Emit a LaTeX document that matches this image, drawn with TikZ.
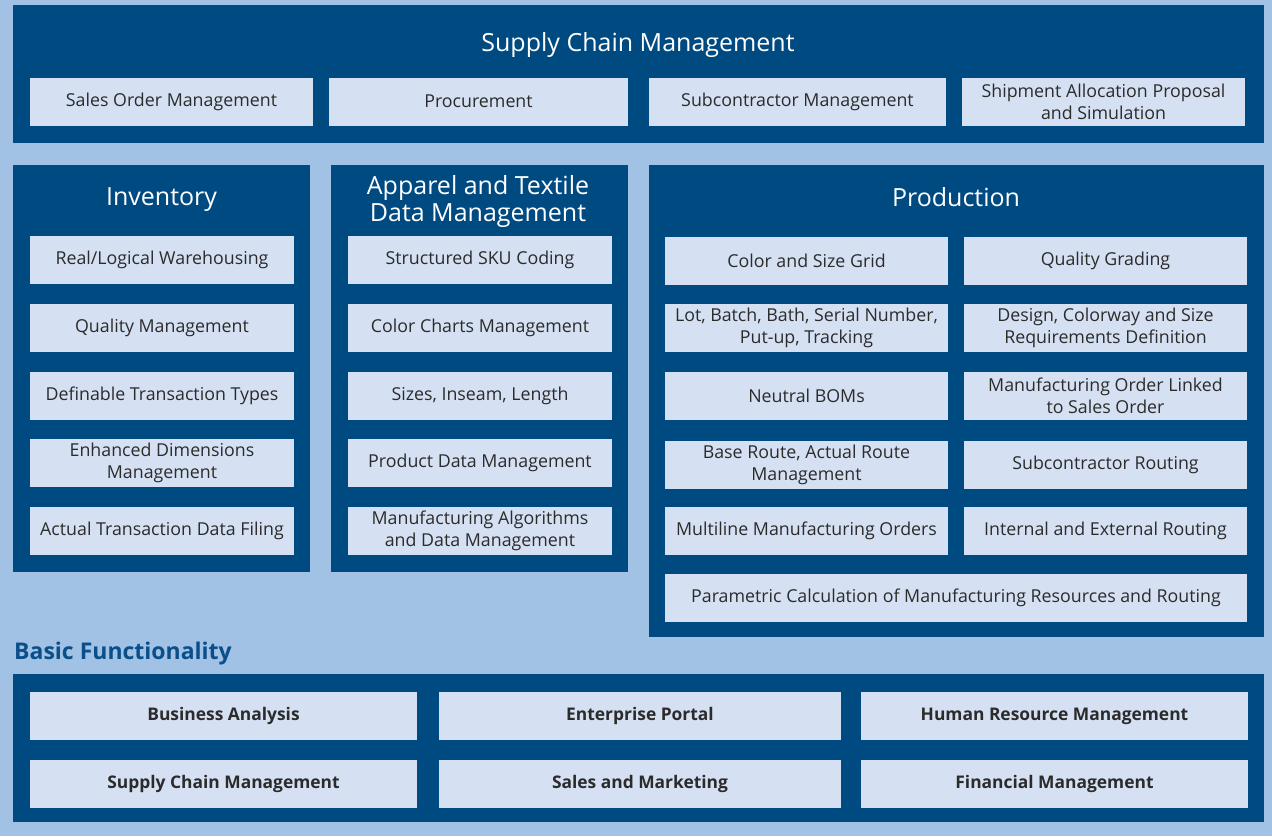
\documentclass[tikz,border=0pt]{standalone}
\usepackage{fontspec}
\setmainfont{Open Sans}
\definecolor{pagebg}{HTML}{A1C1E5}
\definecolor{panelblue}{HTML}{004A82}
\definecolor{itemfill}{HTML}{D5E1F3}
\definecolor{itemtext}{HTML}{2B2B2B}
\definecolor{headblue}{HTML}{0B4F8A}
\begin{document}
\begin{tikzpicture}[x=1pt, y=-1pt,
    panel/.style={fill=panelblue},
    paneltitle/.style={text=white, font=\fontsize{25}{27}\selectfont, align=center, inner sep=0, anchor=base},
    item/.style={fill=itemfill, text=itemtext, inner sep=0, minimum height=48pt, align=center,
        font=\fontsize{17.8}{22}\selectfont},
    baseitem/.style={item, font=\fontsize{17.4}{22}\selectfont\bfseries}]
    \useasboundingbox[fill=pagebg] (0, 0) rectangle (1272, 836);
    % top panel
    \fill[panel] (13, 5) rectangle (1264, 143);
    \node[paneltitle] (scm) at (638, 51) {Supply Chain Management};
    \node[item, minimum width=283pt] (sales) at (171.5, 101.5) {Sales Order Management};
    \node[item, minimum width=299pt] (procure) at (478.5, 101.5) {Procurement};
    \node[item, minimum width=297pt] (subcon) at (797.5, 101.5) {Subcontractor Management};
    \node[item, minimum width=283pt] (shipment) at (1103.5, 101.5) {Shipment Allocation Proposal\\and Simulation};
    % inventory
    \fill[panel] (13, 165) rectangle (310, 572);
    \node[paneltitle] (inv) at (161.5, 205) {Inventory};
    \node[item, minimum width=264pt] (warehouse) at (162, 260) {Real/Logical Warehousing};
    \node[item, minimum width=264pt] (quality) at (162, 328) {Quality Management};
    \node[item, minimum width=264pt] (transtype) at (162, 396) {Definable Transaction Types};
    \node[item, minimum width=264pt] (dimensions) at (162, 463) {Enhanced Dimensions\\Management};
    \node[item, minimum width=264pt] (filing) at (162, 531) {Actual Transaction Data Filing};
    % apparel and textile
    \fill[panel] (331, 165) rectangle (628, 572);
    \node[paneltitle] (apparel) at (478, 221) {Apparel and Textile\\Data Management};
    \node[item, minimum width=264pt] (sku) at (480, 260) {Structured SKU Coding};
    \node[item, minimum width=264pt] (colorchart) at (480, 328) {Color Charts Management};
    \node[item, minimum width=264pt] (sizes) at (480, 396) {Sizes, Inseam, Length};
    \node[item, minimum width=264pt] (pdm) at (480, 463) {Product Data Management};
    \node[item, minimum width=264pt] (algorithms) at (480, 531) {Manufacturing Algorithms\\and Data Management};
    % production
    \fill[panel] (649, 165) rectangle (1264, 637);
    \node[paneltitle] (prod) at (956, 206) {Production};
    \node[item, minimum width=283pt] (grid) at (806.5, 261) {Color and Size Grid};
    \node[item, minimum width=283pt] (grading) at (1105.5, 261) {Quality Grading};
    \node[item, minimum width=283pt] (lot) at (806.5, 328) {Lot, Batch, Bath, Serial Number,\\Put-up, Tracking};
    \node[item, minimum width=283pt] (design) at (1105.5, 328) {Design, Colorway and Size\\Requirements Definition};
    \node[item, minimum width=283pt] (boms) at (806.5, 396) {Neutral BOMs};
    \node[item, minimum width=283pt] (linked) at (1105.5, 396) {Manufacturing Order Linked\\to Sales Order};
    \node[item, minimum width=283pt] (route) at (806.5, 465) {Base Route, Actual Route\\Management};
    \node[item, minimum width=283pt] (subrouting) at (1105.5, 465) {Subcontractor Routing};
    \node[item, minimum width=283pt] (multiline) at (806.5, 531) {Multiline Manufacturing Orders};
    \node[item, minimum width=283pt] (routing) at (1105.5, 531) {Internal and External Routing};
    \node[item, minimum width=582pt] (parametric) at (956, 598) {Parametric Calculation of Manufacturing Resources and Routing};
    % basic functionality
    \node[anchor=west, inner sep=0, text=headblue, font=\fontsize{23}{27}\selectfont\bfseries] (basic) at (14, 654) {Basic Functionality};
    \fill[panel] (13, 674) rectangle (1264, 822);
    \node[baseitem, minimum width=387pt] (analysis) at (223.5, 716) {Business Analysis};
    \node[baseitem, minimum width=402pt] (portal) at (640, 716) {Enterprise Portal};
    \node[baseitem, minimum width=387pt] (hrm) at (1054.5, 716) {Human Resource Management};
    \node[baseitem, minimum width=387pt] (basescm) at (223.5, 784) {Supply Chain Management};
    \node[baseitem, minimum width=402pt] (marketing) at (640, 784) {Sales and Marketing};
    \node[baseitem, minimum width=387pt] (finance) at (1054.5, 784) {Financial Management};
\end{tikzpicture}
\end{document}
